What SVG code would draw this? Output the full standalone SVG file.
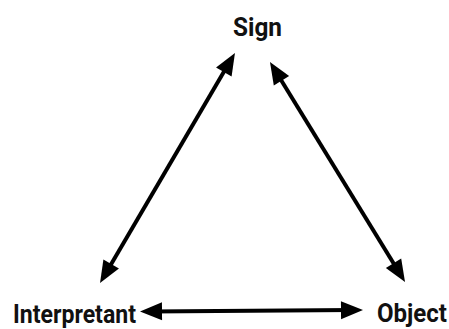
<svg xmlns="http://www.w3.org/2000/svg" width="449" height="329" viewBox="0 0 449 329">
  <style>
    .label { font-family: Roboto, "Liberation Sans", Arial, sans-serif; font-weight: bold; font-size: 25px; fill: #111; }
    .link { stroke: #000; stroke-width: 4; fill: none; marker-start: url(#head); marker-end: url(#head); }
  </style>
  <defs>
    <!-- solid triangular arrowhead; tip sits 10px beyond the line end -->
    <marker id="head" markerUnits="userSpaceOnUse" markerWidth="22" markerHeight="18" refX="12" refY="9" orient="auto-start-reverse" overflow="visible">
      <path d="M0,0 L22,9 L0,18 Z" fill="#000"/>
    </marker>
  </defs>

  <g id="connectors">
    <!-- Sign <-> Interpretant -->
    <line class="link" x1="229.9" y1="61.6" x2="105.1" y2="274.4"/>
    <!-- Sign <-> Object -->
    <line class="link" x1="275.2" y1="70.5" x2="399.8" y2="273.5"/>
    <!-- Interpretant <-> Object -->
    <line class="link" x1="150" y1="311.4" x2="353" y2="310.1"/>
  </g>

  <g id="sign">
    <text class="label" x="233" y="36" textLength="49" lengthAdjust="spacingAndGlyphs">Sign</text>
  </g>
  <g id="interpretant">
    <text class="label" x="13" y="323" textLength="123" lengthAdjust="spacingAndGlyphs">Interpretant</text>
  </g>
  <g id="object">
    <text class="label" x="377" y="322" textLength="70" lengthAdjust="spacingAndGlyphs">Object</text>
  </g>
</svg>
